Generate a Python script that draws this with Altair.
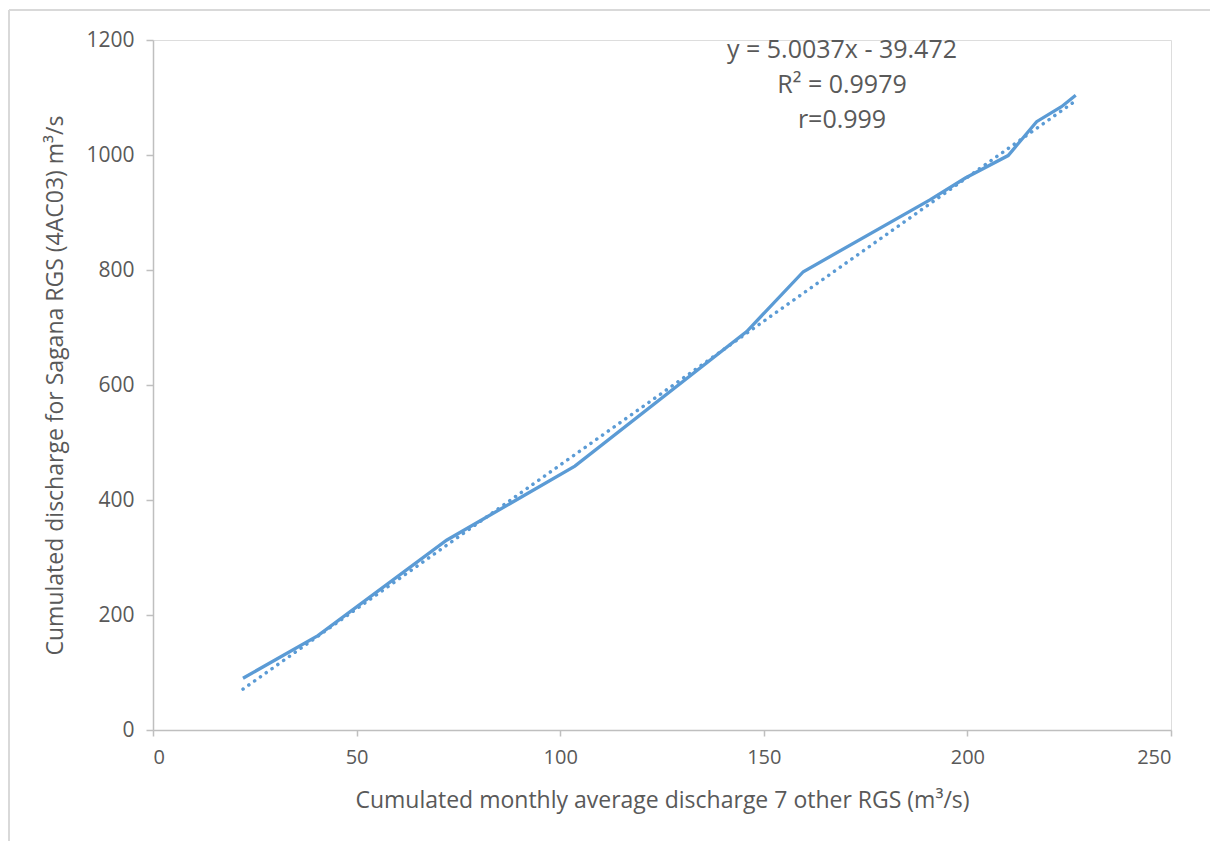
import altair as alt
import pandas as pd

# Cumulated monthly discharge: 7 other RGS (x) vs Sagana RGS 4AC03 (y)
cum_other = [22.1, 40.5, 72.1, 103.6, 145.8, 159.7, 190.8, 199.5, 210.0, 217.0, 223.1, 226.6]
cum_sagana = [90, 164, 330, 459, 693, 797, 922, 960, 999, 1058, 1084, 1104]

# Linear trend reported on the chart
slope = 5.0037
intercept = -39.472
stats_lines = ["y = 5.0037x - 39.472", "R² = 0.9979", "r=0.999"]

x_ticks = [0, 50, 100, 150, 200, 250]
y_ticks = [0, 200, 400, 600, 800, 1000, 1200]

FONT = "Open Sans"
TEXT = "#595959"
AXIS = "#BFBFBF"
BLUE = "#5B9BD5"

W, H = 1018, 690
PAD = {"left": 153, "top": 40, "right": 39, "bottom": 111}

df = pd.DataFrame({"x": cum_other, "y": cum_sagana})
trend = pd.DataFrame({"x": [cum_other[0], cum_other[-1]]})
trend["y"] = slope * trend["x"] + intercept

xs = alt.Scale(domain=[0, 250], nice=False)
ys = alt.Scale(domain=[0, 1200], nice=False)

x_axis = alt.Axis(
    values=x_ticks, format="d", title="Cumulated monthly average discharge 7 other RGS (m³/s)",
    grid=False, domain=True, domainColor=AXIS, domainWidth=1.5,
    ticks=True, tickColor=AXIS, tickSize=6, tickWidth=1.5,
    labelFont=FONT, labelFontSize=20, labelColor=TEXT, labelPadding=11,
    titleFont=FONT, titleFontSize=23, titleFontWeight="normal", titleColor=TEXT,
    titlePadding=22,
)
y_axis = alt.Axis(
    values=y_ticks, format="d", title="Cumulated discharge for Sagana RGS (4AC03) m³/s",
    grid=False, domain=True, domainColor=AXIS, domainWidth=1.5,
    ticks=True, tickColor=AXIS, tickSize=7, tickWidth=1.5,
    labelFont=FONT, labelFontSize=21, labelColor=TEXT, labelPadding=12,
    titleFont=FONT, titleFontSize=23, titleFontWeight="normal", titleColor=TEXT,
    titlePadding=18,
)

line = alt.Chart(df).mark_line(color=BLUE, strokeWidth=3.3).encode(
    x=alt.X("x:Q", scale=xs, axis=x_axis),
    y=alt.Y("y:Q", scale=ys, axis=y_axis),
)

trend_line = alt.Chart(trend).mark_line(
    color=BLUE, strokeWidth=3.5, strokeDash=[0.1, 7], strokeCap="round"
).encode(
    x=alt.X("x:Q", scale=xs),
    y=alt.Y("y:Q", scale=ys),
)


def stat_text(label, y_px):
    return alt.Chart(pd.DataFrame({"t": [label]})).mark_text(
        font=FONT, fontSize=25, color=TEXT, align="center", baseline="middle"
    ).encode(x=alt.value(689), y=alt.value(y_px), text="t:N")


stats = [stat_text(t, 10 + 35 * i) for i, t in enumerate(stats_lines)]

# light frame along the top and left edges of the chart area
frame_left = alt.Chart(df).mark_rule(color="#D9D9D9", strokeWidth=1.5).encode(
    x=alt.value(-144), y=alt.value(-30), y2=alt.value(801)
)
frame_top = alt.Chart(df).mark_rule(color="#D9D9D9", strokeWidth=1.5).encode(
    x=alt.value(-144), x2=alt.value(1057), y=alt.value(-30)
)

chart = (
    alt.layer(frame_left, frame_top, trend_line, line, *stats)
    .properties(width=W, height=H, autosize=alt.AutoSizeParams(type="none"), padding=PAD)
    .configure_view(stroke=None)
    .configure(background="white")
)

chart.save("out.html", embed_options={"renderer": "svg", "actions": False})
